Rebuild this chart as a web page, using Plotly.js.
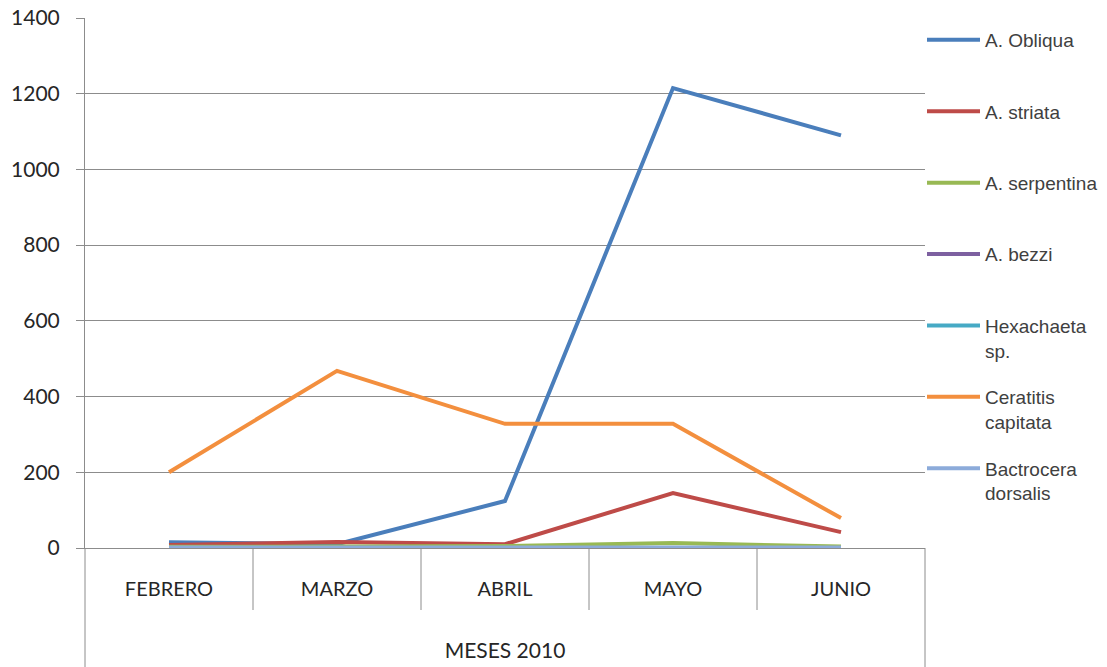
<!DOCTYPE html>
<html>
<head>
<meta charset="utf-8">
<script src="https://cdn.plot.ly/plotly-3.0.1.min.js"></script>
<style>html,body{margin:0;padding:0;background:#fff;}#chart{width:1107px;height:667px;}</style>
</head>
<body>
<div id="chart"></div>
<script>
var categories = ['FEBRERO', 'MARZO', 'ABRIL', 'MAYO', 'JUNIO'];
var seriesNames = ['A. Obliqua', 'A. striata', 'A. serpentina', 'A. bezzi', 'Hexachaeta<br>sp.', 'Ceratitis<br>capitata', 'Bactrocera<br>dorsalis'];
var obliqua = [15, 10, 124, 1215, 1090];
var striata = [8, 16, 10, 145, 42];
var serpentina = [3, 5, 5, 13, 4];
var bezzi = [0, 0, 0, 0, 0];
var hexachaeta = [0, 0, 0, 0, 0];
var ceratitis = [200, 468, 328, 328, 79];
var bactrocera = [1, 1, 1, 1, 1];
var yTicks = [0, 200, 400, 600, 800, 1000, 1200, 1400];
var axisTitle = 'MESES 2010';

var colors = ['#4A7EBB', '#BE4B48', '#98B954', '#7D60A0', '#46AAC5', '#F38F3E', '#8CABDA'];
var allSeries = [obliqua, striata, serpentina, bezzi, hexachaeta, ceratitis, bactrocera];

var traces = allSeries.map(function (vals, i) {
  var name = seriesNames[i];
  if (name.indexOf('<br>') < 0) name = name + '<br>&nbsp;';
  return {
    type: 'scatter', mode: 'lines',
    x: categories, y: vals, name: name,
    legendgroup: 'g' + i,
    line: {color: colors[i], width: 4},
    hoverinfo: 'x+y'
  };
});

var gridCol = '#8c8c8c';
var below = -(667 - 548) / 530;
var sepBottom = -(610 - 548) / 530;
var shapes = [];
shapes.push({type: 'line', xref: 'paper', yref: 'paper', x0: 0, x1: 0, y0: 0, y1: below, line: {color: gridCol, width: 1}});
shapes.push({type: 'line', xref: 'paper', yref: 'paper', x0: 1, x1: 1, y0: 0, y1: below, line: {color: gridCol, width: 1}});
for (var k = 1; k < categories.length; k++) {
  shapes.push({type: 'line', xref: 'x', yref: 'paper', x0: k - 0.5, x1: k - 0.5, y0: 0, y1: sepBottom, line: {color: gridCol, width: 1}});
}

var layout = {
  width: 1107, height: 667,
  margin: {l: 85, r: 182, t: 18, b: 119, autoexpand: false},
  paper_bgcolor: '#ffffff', plot_bgcolor: '#ffffff',
  showlegend: true,
  font: {family: 'Lato, sans-serif', color: '#262626'},
  xaxis: {
    type: 'category', range: [-0.5, categories.length - 0.5],
    showgrid: false, zeroline: false, showline: true, linecolor: gridCol, linewidth: 1,
    ticks: '', tickfont: {family: 'Lato, sans-serif', size: 20, color: '#262626'},
    ticklabelstandoff: 23,
    title: {text: axisTitle, font: {family: 'Lato, sans-serif', size: 21, color: '#262626'}, standoff: 44},
    fixedrange: true
  },
  yaxis: {
    range: [0, 1400], tickvals: yTicks, showgrid: true, gridcolor: gridCol, gridwidth: 1,
    zeroline: false, showline: true, linecolor: gridCol, linewidth: 1,
    ticks: 'outside', ticklen: 8, tickcolor: gridCol,
    tickfont: {family: 'Lato, sans-serif', size: 21, color: '#262626'},
    ticklabelstandoff: 12,
    fixedrange: true
  },
  legend: {
    x: 1 - 3 / 840, xanchor: 'left', y: 1 - 3 / 530, yanchor: 'top',
    font: {family: 'Liberation Sans, Arial, sans-serif', size: 19, color: '#404040'},
    tracegroupgap: 19, valign: 'top', itemwidth: 53,
    bgcolor: 'rgba(0,0,0,0)', borderwidth: 0
  },
  shapes: shapes
};

Plotly.newPlot('chart', traces, layout, {displayModeBar: false, staticPlot: true});
</script>
</body>
</html>
